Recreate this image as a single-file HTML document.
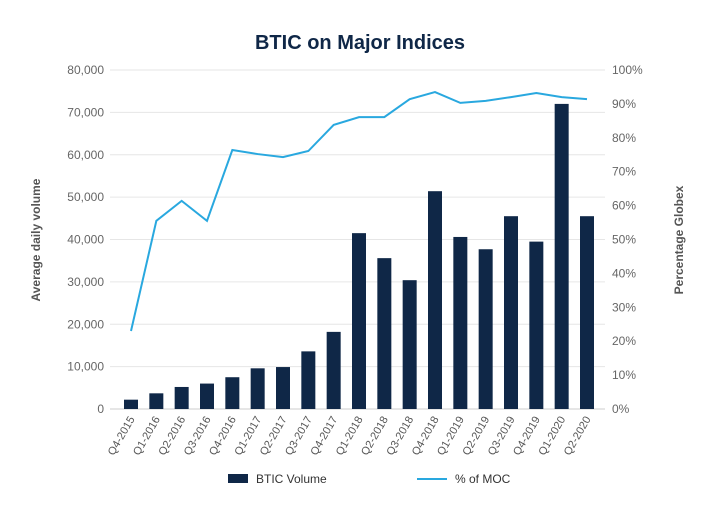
<!DOCTYPE html>
<html><head><meta charset="utf-8"><style>
body{margin:0;background:#fff;font-family:"Liberation Sans",sans-serif}
svg text{font-family:"Liberation Sans",sans-serif}
</style></head><body>
<svg id="c" width="720" height="500">
<text x="360" y="49" text-anchor="middle" font-size="20" font-weight="bold" fill="#0f2747">BTIC on Major Indices</text>
<text transform="translate(40,240) rotate(-90)" text-anchor="middle" font-size="12" font-weight="bold" fill="#555">Average daily volume</text>
<text transform="translate(683,240) rotate(-90)" text-anchor="middle" font-size="12" font-weight="bold" fill="#555">Percentage Globex</text>
<g id="grid"></g><g id="bars"></g><g id="line"></g><g id="labels"></g>
<g>
<rect x="228" y="474" width="20" height="9" fill="#0f2747"/>
<text x="256" y="483" font-size="12" fill="#333">BTIC Volume</text>
<line x1="417" y1="479" x2="447" y2="479" stroke="#29a8df" stroke-width="2"/>
<text x="455" y="483" font-size="12" fill="#333">% of MOC</text>
</g>
</svg>
<script>
const categories=["Q4-2015","Q1-2016","Q2-2016","Q3-2016","Q4-2016","Q1-2017","Q2-2017","Q3-2017","Q4-2017","Q1-2018","Q2-2018","Q3-2018","Q4-2018","Q1-2019","Q2-2019","Q3-2019","Q4-2019","Q1-2020","Q2-2020"];
const volume=[2200,3700,5200,6000,7500,9600,9900,13600,18200,41500,35600,30400,51400,40600,37700,45500,39500,72000,45500];
const mocPct=[23,55.5,61.4,55.5,76.4,75.2,74.3,76.1,83.8,86.1,86.1,91.4,93.5,90.3,90.9,92,93.2,92,91.4];
const leftTicks=[0,10000,20000,30000,40000,50000,60000,70000,80000];
const rightTicks=[0,10,20,30,40,50,60,70,80,90,100];
const NS="http://www.w3.org/2000/svg";
const x0=131,step=(587-131)/(categories.length-1),yTop=70,yBot=409;
const xPos=i=>x0+i*step;
const yL=v=>yBot-(v/80000)*(yBot-yTop);
const yR=v=>yBot-(v/100)*(yBot-yTop);
function mk(tag,attrs,parent){const e=document.createElementNS(NS,tag);for(const k in attrs)e.setAttribute(k,attrs[k]);document.getElementById(parent).appendChild(e);return e;}
leftTicks.forEach(t=>{
 const l=mk('line',{x1:110,x2:605,y1:yL(t),y2:yL(t),stroke:t===0?'#ccc':'#e6e6e6','stroke-width':1},'grid');
 
 
 const tx=mk('text',{x:104,y:yL(t)+4,'text-anchor':'end','font-size':12,fill:'#666'},'labels');
 tx.textContent=t.toLocaleString('en-US');
 
 
});
rightTicks.forEach(t=>{
 const tx=mk('text',{x:612,y:yR(t)+4,'font-size':12,fill:'#666'},'labels');
 tx.textContent=t+'%';
 
 
});
volume.forEach((v,i)=>{
 const r=mk('rect',{x:xPos(i)-7,y:yL(v),width:14,height:yBot-yL(v),fill:'#0f2747'},'bars');
 
 
});
const p=mk('polyline',{points:mocPct.map((v,i)=>xPos(i)+','+yR(v)).join(' '),fill:'none',stroke:'#29a8df','stroke-width':2},'line');


categories.forEach((c,i)=>{
 const tx=mk('text',{transform:`translate(${xPos(i)+4},${yBot+10}) rotate(-60)`,'text-anchor':'end','font-size':11,fill:'#555'},'labels');
 tx.textContent=c;
 
 
});
</script>
</body></html>
